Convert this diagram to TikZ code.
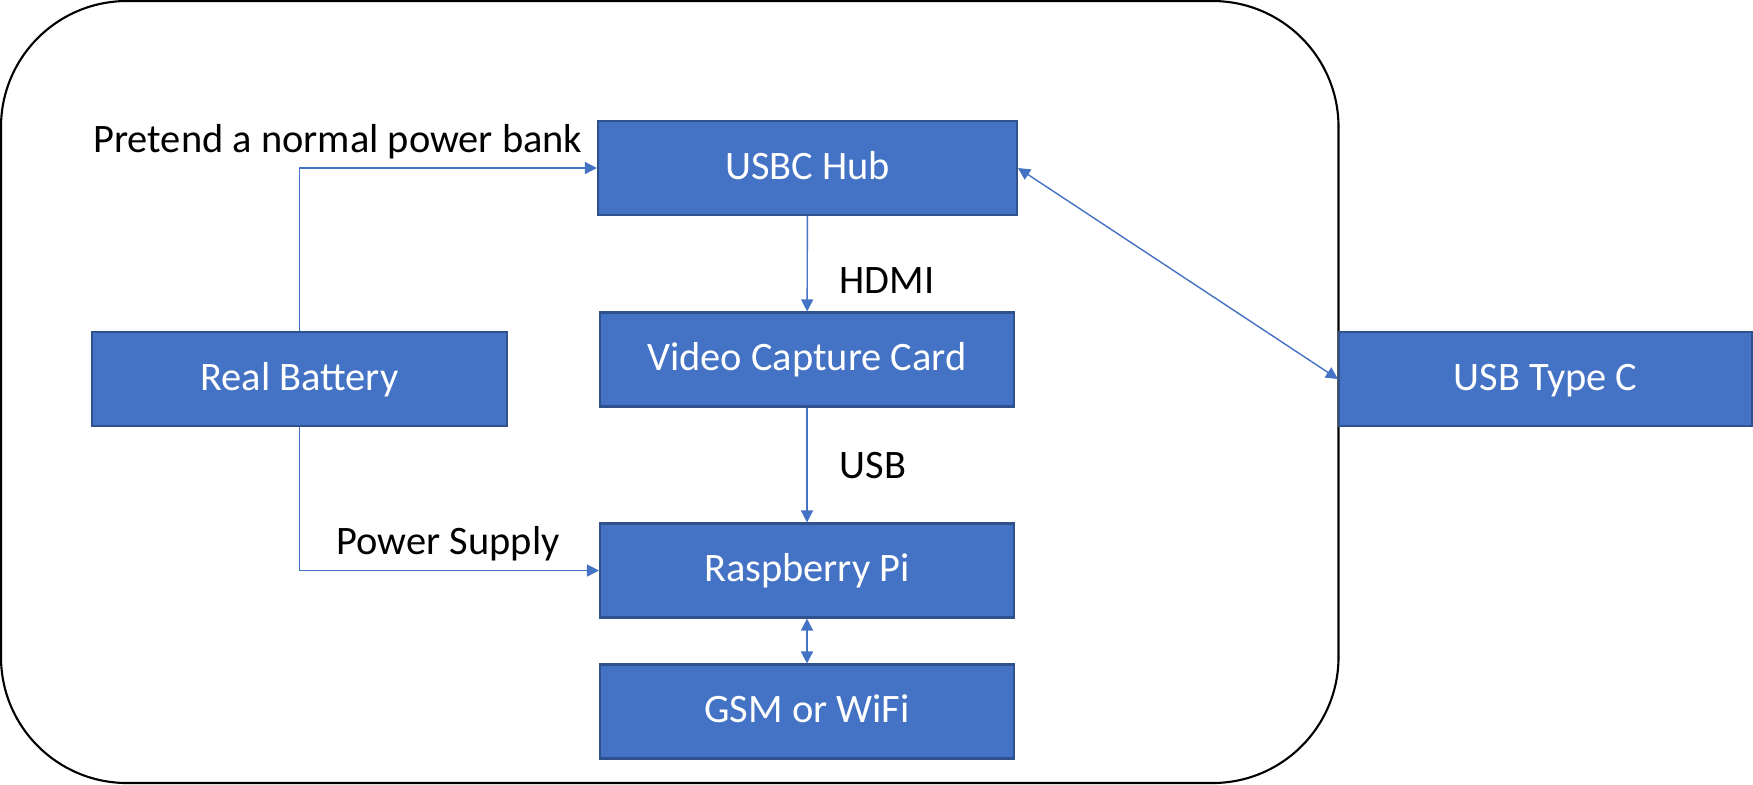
\documentclass[tikz,border=0pt]{standalone}
\usepackage{fontspec}
\setmainfont{Carlito}
\usetikzlibrary{arrows.meta}
\definecolor{boxblue}{HTML}{4472C4}
\definecolor{boxedge}{HTML}{2F528F}
\tikzstyle{block} = [rectangle, minimum width=4.14cm, minimum height=0.94cm, text centered, text height=0.64em, text depth=0pt, draw=boxedge, line width=0.6pt, fill=boxblue, text=white, font=\fontsize{11.5}{14}\selectfont]
\tikzstyle{note} = [inner sep=0pt, text=black, font=\fontsize{11.5}{14}\selectfont]
\tikzstyle{arrow} = [draw=boxblue, line width=0.4pt, -{Triangle[length=0.12cm, width=0.12cm]}]
\tikzstyle{twoway} = [draw=boxblue, line width=0.4pt, {Triangle[length=0.12cm, width=0.12cm]}-{Triangle[length=0.12cm, width=0.12cm]}]

\begin{document}
\begin{tikzpicture}
	\useasboundingbox (0,0) rectangle (17.53,-7.84);
	\draw [line width=0.6pt, rounded corners=1.26cm] (0.01,-0.01) rectangle (13.385,-7.83);
	
	\node (hub) [block, minimum width=4.19cm] at (8.075,-1.68) {USBC Hub};
	\node (vcc) [block] at (8.07,-3.595) {Video Capture Card};
	\node (pi) [block] at (8.07,-5.705) {Raspberry Pi};
	\node (gsm) [block] at (8.07,-7.115) {GSM or WiFi};
	\node (battery) [block, minimum width=4.15cm] at (2.995,-3.79) {Real Battery};
	\node (usbc) [block, minimum width=4.13cm] at (15.455,-3.79) {USB Type C};
	
	\node (pretend) [note, anchor=base east] at (5.83,-1.52) {Pretend a normal power bank};
	\node (hdmi) [note, anchor=base west] at (8.39,-2.93) {HDMI};
	\node (usb) [note, anchor=base west] at (8.39,-4.78) {USB};
	\node (power) [note, anchor=base west] at (3.36,-5.54) {Power Supply};
	
	\draw [arrow] (battery.north) |- (hub.west);
	\draw [arrow] (battery.south) |- (pi.west);
	\draw [arrow] (hub) -- (vcc);
	\draw [arrow] (vcc) -- (pi);
	\draw [twoway] (pi) -- (gsm);
	\draw [twoway] (hub.east) -- (usbc.west);
\end{tikzpicture}
\end{document}
